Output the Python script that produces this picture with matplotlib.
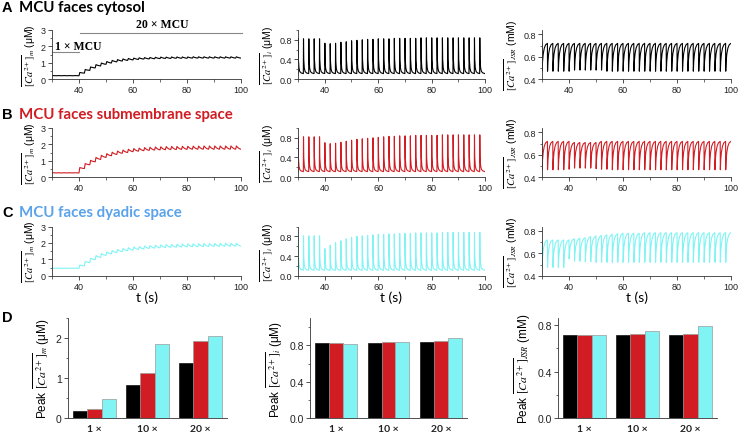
import numpy as np
import matplotlib.pyplot as plt
from matplotlib.ticker import MultipleLocator, FormatStrFormatter

plt.rcParams['font.family'] = ['Liberation Sans', 'DejaVu Sans']
plt.rcParams['mathtext.fontset'] = 'stix'
plt.rcParams['axes.linewidth'] = 0.6

BLACK = '#000000'
RED = '#d01c22'
CYAN = '#80f4f4'
TITLE_BLUE = '#5aa2ea'

# pacing: one beat every 2 s, MCU level switched at 40 s (beat index 5)
beat_t = np.arange(30.0, 99.0, 2.0)   # 35 beats

# ---- mitochondrial Ca (value at beat onset / peak after the beat) ----
cam_base_A = [0.20, 0.20, 0.20, 0.20, 0.20, 0.20, 0.36, 0.53, 0.68, 0.80,
              0.90, 0.98, 1.05, 1.10, 1.14, 1.17, 1.20, 1.22, 1.23, 1.24,
              1.25, 1.26, 1.26, 1.27, 1.27, 1.27, 1.28, 1.28, 1.28, 1.28,
              1.28, 1.28, 1.28, 1.28, 1.28]
cam_peak_A = [0.21, 0.21, 0.21, 0.21, 0.21, 0.40, 0.58, 0.74, 0.88, 0.98,
              1.07, 1.14, 1.19, 1.23, 1.26, 1.28, 1.30, 1.31, 1.32, 1.33,
              1.34, 1.34, 1.35, 1.35, 1.35, 1.35, 1.36, 1.36, 1.36, 1.36,
              1.36, 1.36, 1.36, 1.36, 1.36]
cam_base_B = [0.25, 0.25, 0.25, 0.25, 0.25, 0.25, 0.52, 0.75, 0.93, 1.08,
              1.20, 1.30, 1.38, 1.45, 1.50, 1.55, 1.58, 1.61, 1.63, 1.65,
              1.66, 1.67, 1.68, 1.68, 1.69, 1.69, 1.70, 1.70, 1.70, 1.70,
              1.70, 1.70, 1.70, 1.70, 1.70]
cam_peak_B = [0.26, 0.26, 0.26, 0.26, 0.26, 0.58, 0.82, 1.02, 1.20, 1.33,
              1.43, 1.52, 1.59, 1.65, 1.70, 1.74, 1.77, 1.80, 1.82, 1.84,
              1.85, 1.86, 1.87, 1.87, 1.88, 1.88, 1.89, 1.89, 1.90, 1.90,
              1.90, 1.90, 1.90, 1.90, 1.90]
cam_base_C = [0.45, 0.45, 0.45, 0.45, 0.45, 0.45, 0.60, 0.80, 0.98, 1.12,
              1.24, 1.33, 1.41, 1.47, 1.52, 1.56, 1.60, 1.63, 1.66, 1.68,
              1.70, 1.72, 1.73, 1.74, 1.75, 1.76, 1.77, 1.77, 1.78, 1.78,
              1.79, 1.79, 1.80, 1.80, 1.80]
cam_peak_C = [0.46, 0.46, 0.46, 0.46, 0.46, 0.65, 0.87, 1.06, 1.22, 1.35,
              1.45, 1.53, 1.60, 1.66, 1.71, 1.75, 1.78, 1.81, 1.84, 1.86,
              1.88, 1.90, 1.91, 1.92, 1.93, 1.94, 1.95, 1.95, 1.96, 1.96,
              1.97, 1.97, 1.98, 1.98, 1.98]

# ---- cytosolic Ca transient peaks (diastolic level constant) ----
cai_peak_A = [0.83, 0.82, 0.82, 0.82, 0.82, 0.73, 0.72, 0.73, 0.75, 0.76,
              0.78, 0.79, 0.80, 0.81, 0.81, 0.82, 0.82, 0.82, 0.83, 0.83,
              0.83, 0.83, 0.83, 0.84, 0.84, 0.84, 0.84, 0.84, 0.84, 0.84,
              0.84, 0.84, 0.84, 0.84, 0.84]
cai_peak_B = [0.82, 0.82, 0.82, 0.82, 0.82, 0.70, 0.68, 0.69, 0.71, 0.73,
              0.75, 0.77, 0.78, 0.79, 0.80, 0.81, 0.82, 0.83, 0.83, 0.84,
              0.84, 0.84, 0.85, 0.85, 0.85, 0.85, 0.85, 0.86, 0.86, 0.86,
              0.86, 0.86, 0.86, 0.86, 0.86]
cai_peak_C = [0.81, 0.81, 0.81, 0.81, 0.81, 0.55, 0.62, 0.67, 0.71, 0.75,
              0.78, 0.80, 0.81, 0.82, 0.83, 0.84, 0.84, 0.85, 0.85, 0.86,
              0.86, 0.86, 0.87, 0.87, 0.87, 0.87, 0.87, 0.88, 0.88, 0.88,
              0.88, 0.88, 0.88, 0.88, 0.88]
cai_rest = 0.11

# ---- JSR Ca (refilled level at beat onset / depleted level after release) ----
jsr_base_A = [0.72] * 35
jsr_low_A = [0.47, 0.47, 0.47, 0.47, 0.47, 0.47, 0.48, 0.48, 0.48, 0.48,
             0.48, 0.48, 0.47, 0.47, 0.47, 0.47, 0.47, 0.47, 0.47, 0.47,
             0.47, 0.47, 0.47, 0.47, 0.47, 0.47, 0.47, 0.47, 0.47, 0.47,
             0.47, 0.47, 0.47, 0.47, 0.47]
jsr_base_B = [0.72, 0.72, 0.72, 0.72, 0.72, 0.72, 0.71, 0.71, 0.71, 0.71,
              0.71, 0.72, 0.72, 0.72, 0.72, 0.72, 0.72, 0.72, 0.72, 0.72,
              0.72, 0.72, 0.72, 0.72, 0.72, 0.72, 0.72, 0.72, 0.72, 0.72,
              0.72, 0.72, 0.72, 0.72, 0.72]
jsr_low_B = [0.465, 0.465, 0.465, 0.465, 0.465, 0.47, 0.48, 0.48, 0.48, 0.48,
             0.475, 0.47, 0.47, 0.465, 0.465, 0.465, 0.465, 0.465, 0.465, 0.465,
             0.465, 0.465, 0.465, 0.465, 0.465, 0.465, 0.465, 0.465, 0.465, 0.465,
             0.465, 0.465, 0.465, 0.465, 0.465]
jsr_base_C = [0.72, 0.72, 0.72, 0.72, 0.72, 0.72, 0.73, 0.735, 0.74, 0.75,
              0.755, 0.76, 0.765, 0.77, 0.775, 0.78, 0.78, 0.78, 0.78, 0.785,
              0.785, 0.785, 0.785, 0.785, 0.785, 0.785, 0.785, 0.785, 0.785, 0.785,
              0.785, 0.785, 0.785, 0.785, 0.785]
jsr_low_C = [0.475, 0.475, 0.475, 0.475, 0.475, 0.55, 0.53, 0.53, 0.525, 0.525,
             0.52, 0.52, 0.52, 0.52, 0.52, 0.52, 0.52, 0.52, 0.52, 0.52,
             0.52, 0.52, 0.52, 0.52, 0.52, 0.52, 0.52, 0.52, 0.52, 0.52,
             0.52, 0.52, 0.52, 0.52, 0.52]

# beat-shape templates (time after peak, fraction left)
cam_shape = (0.30, [0, 0.4, 0.8, 1.2, 1.7], [1, 0.6, 0.33, 0.14, 0])
cai_shape = (0.06, [0, 0.1, 0.3, 0.6, 1.1, 1.94], [1, 0.4, 0.16, 0.06, 0.02, 0])
jsr_shape = (0.05, [0, 0.15, 0.4, 0.8, 1.3, 1.95], [1, 0.65, 0.38, 0.17, 0.05, 0])

# ---- panel D: peak values at 1x / 10x / 20x MCU ----
groups = ['1 ×', '10 ×', '20 ×']
pk_cam_cyto = [0.18, 0.82, 1.39]
pk_cam_sub = [0.24, 1.13, 1.93]
pk_cam_dyad = [0.47, 1.84, 2.05]
pk_cai_cyto = [0.822, 0.830, 0.833]
pk_cai_sub = [0.830, 0.840, 0.852]
pk_cai_dyad = [0.811, 0.833, 0.878]
pk_jsr_cyto = [0.717, 0.717, 0.717]
pk_jsr_sub = [0.714, 0.720, 0.725]
pk_jsr_dyad = [0.717, 0.745, 0.788]


def build_trace(base, peak, shape):
    rise, g_t, g_v = shape
    base = np.broadcast_to(np.asarray(base, float), (len(beat_t),))
    ts, ys = [], []
    for k, t0 in enumerate(beat_t):
        nxt = base[k + 1] if k + 1 < len(base) else base[k]
        ts += [t0, t0 + rise]
        ys += [base[k], peak[k]]
        for ph, g in zip(g_t[1:], g_v[1:]):
            ts.append(t0 + rise + ph)
            ys.append(nxt + g * (peak[k] - nxt))
    return np.array(ts), np.array(ys)


W, H = 741, 439
fig = plt.figure(figsize=(W / 100, H / 100), dpi=100)


def px_axes(x0, y0, x1, y1):
    return fig.add_axes([x0 / W, 1 - y1 / H, (x1 - x0) / W, (y1 - y0) / H])


def style(ax, tick_size=6.5):
    for s in ['top', 'right']:
        ax.spines[s].set_visible(False)
    for s in ['left', 'bottom']:
        ax.spines[s].set_color('#333333')
    ax.tick_params(which='major', direction='out', length=3, width=0.6,
                   labelsize=tick_size, pad=1.5, colors='#333333', labelcolor='#222222')
    ax.tick_params(which='minor', direction='out', length=1.8, width=0.5, colors='#333333')


cols_x = [(52, 241), (298, 485), (542, 731)]
rows_y = [(31, 80), (129, 178), (227.5, 276.7)]
colors = [BLACK, RED, CYAN]
cam_data = [(cam_base_A, cam_peak_A), (cam_base_B, cam_peak_B), (cam_base_C, cam_peak_C)]
cai_data = [(cai_rest, cai_peak_A), (cai_rest, cai_peak_B), (cai_rest, cai_peak_C)]
jsr_data = [(jsr_base_A, jsr_low_A), (jsr_base_B, jsr_low_B), (jsr_base_C, jsr_low_C)]

lab_m = r'$\overline{[Ca^{2+}]}_{m}$ (μM)'
lab_i = r'$\overline{[Ca^{2+}]}_{i}$ (μM)'
lab_j = r'$\overline{[Ca^{2+}]}_{JSR}$ (mM)'

for r in range(3):
    y0, y1 = rows_y[r]
    specs = [
        (cam_data[r], cam_shape, (0, 3), 1, 0.5, '%d', lab_m),
        (cai_data[r], cai_shape, (0, 1.0), 0.4, 0.2, '%.1f', lab_i),
        (jsr_data[r], jsr_shape, (0.4, 0.84), 0.2, 0.1, '%.1f', lab_j),
    ]
    for c, (data, shape, ylim, maj, mnr, fmt, lab) in enumerate(specs):
        ax = px_axes(cols_x[c][0], y0, cols_x[c][1], y1)
        t, y = build_trace(data[0], data[1], shape)
        ax.plot(t, y, color=colors[r], lw=0.8)
        ax.set_xlim(30, 100)
        ax.xaxis.set_minor_locator(MultipleLocator(10))
        ax.set_xticks([40, 60, 80, 100])
        ax.yaxis.set_major_locator(MultipleLocator(maj))
        ax.yaxis.set_minor_locator(MultipleLocator(mnr))
        ax.yaxis.set_major_formatter(FormatStrFormatter(fmt))
        ax.set_ylim(*ylim)
        style(ax)
        ax.set_ylabel(lab, fontsize=7.5, labelpad=2)
        if r == 2:
            ax.set_xlabel('t (s)', fontsize=10, family='Lato', labelpad=0)
        if r == 0 and c == 0:
            ax.plot([30, 40], [1.67, 1.67], color='#888888', lw=0.8, clip_on=False)
            ax.plot([40.5, 100.5], [2.8, 2.8], color='#888888', lw=0.8, clip_on=False)
            ax.text(39.8, 2.05, '1 × MCU', fontsize=8.5, fontweight='bold',
                    family='Liberation Serif', ha='center', va='center')
            ax.text(71.0, 3.35, '20 × MCU', fontsize=8.5, fontweight='bold',
                    family='Liberation Serif', ha='center', va='center', clip_on=False)

# titles
title_fs = 10.8
fig.text(2 / W, 1 - 8 / H, 'A', fontsize=10.5, fontweight='bold', va='center')
fig.text(19 / W, 1 - 8 / H, 'MCU faces cytosol', fontsize=title_fs, fontweight='bold',
         family='Lato', va='center', color=BLACK)
fig.text(2 / W, 1 - 115 / H, 'B', fontsize=10.5, fontweight='bold', va='center')
fig.text(19 / W, 1 - 115 / H, 'MCU faces submembrane space', fontsize=title_fs, fontweight='bold',
         family='Lato', va='center', color=RED)
fig.text(2 / W, 1 - 213 / H, 'C', fontsize=10.5, fontweight='bold', va='center')
fig.text(19 / W, 1 - 213 / H, 'MCU faces dyadic space', fontsize=title_fs, fontweight='bold',
         family='Lato', va='center', color=TITLE_BLUE)
fig.text(2 / W, 1 - 318 / H, 'D', fontsize=10.5, fontweight='bold', va='center')

# panel D bars
bar_specs = [
    ((68, 227), [pk_cam_cyto, pk_cam_sub, pk_cam_dyad], (0, 2.5), 1, 0.5, '%d', 'Peak ' + lab_m),
    ((310, 467), [pk_cai_cyto, pk_cai_sub, pk_cai_dyad], (0, 1.1), 0.4, 0.2, '%.1f', 'Peak ' + lab_i),
    ((558, 717), [pk_jsr_cyto, pk_jsr_sub, pk_jsr_dyad], (0, 0.86), 0.4, 0.2, '%.1f', 'Peak ' + lab_j),
]
bar_w = 0.265
x = np.arange(len(groups))
for (x0, x1), series, ylim, maj, mnr, fmt, lab in bar_specs:
    ax = px_axes(x0, 319, x1, 419.3)
    for i, (vals, col) in enumerate(zip(series, colors)):
        edge = '#111111' if col == BLACK else '#9a9a9a'
        ax.bar(x + (i - 1) * bar_w, vals, bar_w, color=col, edgecolor=edge, linewidth=0.5)
    ax.set_xlim(-0.5, 2.5)
    ax.set_ylim(*ylim)
    ax.yaxis.set_major_locator(MultipleLocator(maj))
    ax.yaxis.set_minor_locator(MultipleLocator(mnr))
    ax.yaxis.set_major_formatter(FormatStrFormatter(fmt))
    ax.set_xticks(x)
    ax.set_xticklabels(groups, fontsize=9, fontweight='bold', family='Lato')
    style(ax, tick_size=7.5)
    ax.tick_params(axis='x', length=0, pad=4)
    ax.set_ylabel(lab, fontsize=8.5, labelpad=3)

fig.savefig('out.png', dpi=100)
